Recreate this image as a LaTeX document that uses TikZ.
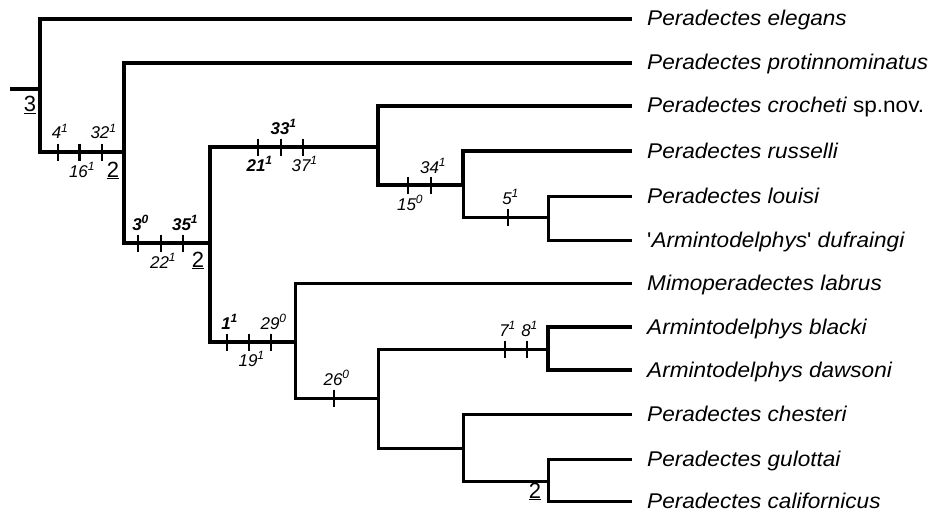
\documentclass[tikz,border=0pt]{standalone}
\usepackage{fontspec}
\setmainfont{Liberation Sans}
\newfontfamily\taxfont[FakeStretch=1.06]{Liberation Sans}
\newcommand\sups[1]{\rlap{\raisebox{6.5pt}{\fontsize{12}{12}\selectfont #1}}}
\begin{document}
\begin{tikzpicture}[x=1pt,y=-1pt,
  thk/.style={line width=3.3pt},
  thn/.style={line width=3.0pt},
  tickmark/.style={line width=2.4pt},
  taxon/.style={anchor=base west, inner sep=0pt, font=\taxfont\fontsize{21.3}{21.3}\selectfont\itshape},
  chr/.style={anchor=base, inner sep=0pt, font=\fontsize{17}{17}\selectfont\itshape},
  chrb/.style={chr, font=\fontsize{17}{17}\selectfont\bfseries\itshape},
  cnt/.style={anchor=base, inner sep=0pt, font=\fontsize{22}{22}\selectfont}]
\useasboundingbox (0,0) rectangle (933,516);
% internal nodes (x of vertical, y of incoming stem)
\coordinate (r0) at (10,89);
\coordinate (N1) at (40,89);
\coordinate (N2) at (124,152);
\coordinate (N3) at (210,243);
\coordinate (N4) at (378,147);
\coordinate (N5) at (463,185);
\coordinate (N6) at (548,217);
\coordinate (N7) at (295,342);
\coordinate (N8) at (378,398);
\coordinate (N9) at (548,349);
\coordinate (N10) at (463,448);
\coordinate (N11) at (548,481);
% tips
\coordinate (t1) at (632,19);
\coordinate (t2) at (632,63);
\coordinate (t3) at (632,106);
\coordinate (t4) at (632,151);
\coordinate (t5) at (632,196);
\coordinate (t6) at (632,240);
\coordinate (t7) at (632,283);
\coordinate (t8) at (632,327);
\coordinate (t9) at (632,370);
\coordinate (t10) at (632,414);
\coordinate (t11) at (632,459);
\coordinate (t12) at (632,501);
% branches
\draw[thk] (r0) -- (N1);
\draw[thk] (N1) |- (t1);
\draw[thk] (N1) |- (N2);
\draw[thk] (N2) |- (t2);
\draw[thk] (N2) |- (N3);
\draw[thk] (N3) |- (N4);
\draw[thk] (N3) |- (N7);
\draw[thk] (N4) |- (t3);
\draw[thk] (N4) |- (N5);
\draw[thk] (N5) |- (t4);
\draw[thn] (N5) |- (N6);
\draw[thn] (N6) |- (t5);
\draw[thn] (N6) |- (t6);
\draw[thn] (N7) |- (t7);
\draw[thn] (N7) |- (N8);
\draw[thn] (N8) |- (N9);
\draw[thk] (N9) |- (t8);
\draw[thk] (N9) |- (t9);
\draw[thn] (N8) |- (N10);
\draw[thn] (N10) |- (t10);
\draw[thn] (N10) |- (N11);
\draw[thn] (N11) |- (t11);
\draw[thn] (N11) |- (t12);
% tick marks
\foreach \x/\y in {57.7/152,79.3/152,101.7/152,138/243,160.7/243,182.7/243,
  258/147,281/147,303/147,408/185,431/185,508/217,227/342,249/342,271/342,
  334/398,505/349,527/349}
  \draw[tickmark] (\x,\y-8.5) -- (\x,\y+8.5);
% character labels
\node[chr]  (c4)  at (56.5,139) {4\sups{1}};
\node[chr]  (c16) at (78.5,177) {16\sups{1}};
\node[chr]  (c32) at (100,139) {32\sups{1}};
\node[chrb] (c3)  at (137,230) {3\sups{0}};
\node[chr]  (c22) at (159.5,268) {22\sups{1}};
\node[chrb] (c35) at (181.5,230) {35\sups{1}};
\node[chrb] (c21) at (256,171) {21\sups{1}};
\node[chrb] (c33) at (280,134) {33\sups{1}};
\node[chr]  (c37) at (301,171) {37\sups{1}};
\node[chr]  (c15) at (406.5,210) {15\sups{0}};
\node[chr]  (c34) at (429.5,173) {34\sups{1}};
\node[chr]  (c5)  at (507,204) {5\sups{1}};
\node[chrb] (c1)  at (226,329) {1\sups{1}};
\node[chr]  (c19) at (248,366) {19\sups{1}};
\node[chr]  (c29) at (270,329) {29\sups{0}};
\node[chr]  (c26) at (333,385) {26\sups{0}};
\node[chr]  (c7)  at (504,336) {7\sups{1}};
\node[chr]  (c8)  at (526,336) {8\sups{1}};
% support values
\node[cnt] (s3)  at (30,112) {\underline{3}};
\node[cnt] (s2a) at (113,177) {\underline{2}};
\node[cnt] (s2b) at (198,267) {\underline{2}};
\node[cnt] (s2c) at (535,498) {\underline{2}};
% taxa
\node[taxon] (L1)  at (647,26) {Peradectes elegans};
\node[taxon] (L2)  at (647,70) {Peradectes protinnominatus};
\node[taxon] (L3)  at (647,113) {Peradectes crocheti \upshape sp.nov.};
\node[taxon] (L4)  at (647,158) {Peradectes russelli};
\node[taxon] (L5)  at (647,203) {Peradectes louisi};
\node[taxon] (L6)  at (647,247) {{\upshape\symbol{39}}Armintodelphys{\upshape\symbol{39}} dufraingi};
\node[taxon] (L7)  at (647,290) {Mimoperadectes labrus};
\node[taxon] (L8)  at (647,334) {Armintodelphys blacki};
\node[taxon] (L9)  at (647,377) {Armintodelphys dawsoni};
\node[taxon] (L10) at (647,421) {Peradectes chesteri};
\node[taxon] (L11) at (647,466) {Peradectes gulottai};
\node[taxon] (L12) at (647,508) {Peradectes californicus};
\end{tikzpicture}
\end{document}
